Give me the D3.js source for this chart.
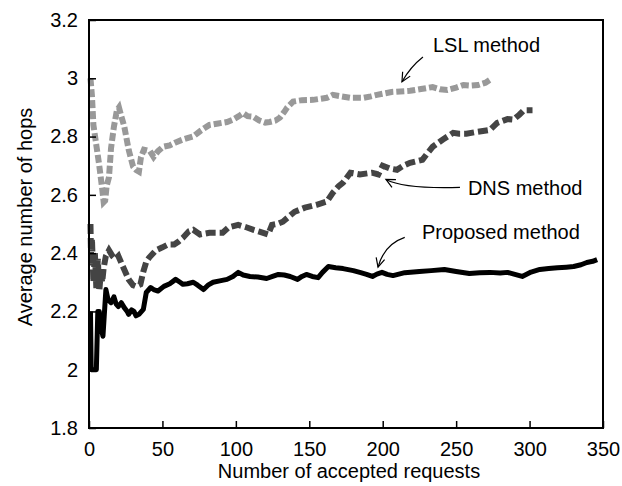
<!DOCTYPE html>
<html>
<head>
<meta charset="utf-8">
<script src="https://cdn.jsdelivr.net/npm/d3@7"></script>
<style>
  body { margin: 0; background: #fff; }
  text { font-family: "Liberation Sans", Arial, Helvetica, sans-serif; fill: #000; }
</style>
</head>
<body>
<div id="chart"></div>
<script>
// series: [requests, average hops]
const lslData = [[1,3.0],[2,2.94],[3,2.84],[5,2.77],[7,2.7],[9,2.62],[10,2.575],[11,2.58],[12,2.63],[13.6,2.66],
  [15,2.76],[17,2.835],[19,2.89],[20.4,2.9],[22,2.87],[24,2.835],[27,2.755],[30,2.697],[32,2.686],[34,2.68],
  [35.4,2.73],[37.4,2.755],[41.5,2.75],[44,2.73],[47,2.75],[50.4,2.765],[55,2.77],[59,2.78],[64,2.79],[70.8,2.80],
  [76,2.82],[82,2.84],[88,2.845],[94,2.85],[98,2.858],[102,2.87],[105,2.88],[108,2.87],[112,2.868],[116,2.855],
  [120,2.848],[123,2.85],[127,2.855],[130,2.865],[133,2.885],[135,2.90],[139,2.92],[145,2.925],[152.5,2.926],
  [158,2.93],[162,2.933],[166,2.943],[172,2.938],[178,2.933],[187,2.933],[192,2.938],[196,2.943],[201,2.948],
  [206,2.953],[212,2.955],[218.6,2.957],[226,2.963],[234,2.97],[239,2.962],[244,2.96],[250,2.968],[255,2.977],
  [260,2.975],[265,2.977],[270,2.985],[273,2.995]];

const dnsData = [[1,2.5],[1.5,2.36],[2,2.45],[3,2.3],[4,2.4],[5,2.28],[6,2.38],[7,2.27],[8,2.33],[9,2.3],
  [10,2.35],[11.5,2.39],[13.6,2.41],[16,2.39],[18,2.38],[20,2.39],[23,2.355],[27,2.31],[30,2.29],[32,2.286],
  [35,2.293],[37,2.337],[39,2.37],[41,2.385],[45.6,2.41],[50,2.42],[54,2.43],[58,2.43],[61,2.44],[64,2.453],
  [68,2.475],[71,2.48],[75.6,2.464],[82,2.47],[91,2.47],[95,2.488],[101.6,2.497],[107.6,2.488],[112,2.48],
  [116,2.474],[122,2.464],[124.6,2.497],[128,2.5],[132,2.508],[136,2.525],[140,2.542],[147,2.556],[155,2.566],
  [162,2.577],[166,2.607],[170,2.63],[173,2.642],[178,2.676],[184.5,2.67],[192.7,2.676],[197,2.67],[200,2.7],
  [205,2.69],[209.7,2.686],[214,2.7],[218.6,2.71],[227,2.72],[230,2.74],[234,2.765],[241,2.79],[248,2.813],
  [252,2.81],[257,2.81],[264,2.816],[273,2.823],[278,2.847],[285,2.86],[289,2.858],[293,2.875],[296,2.89],[302,2.89]];

const proposedData = [[1,2.2],[1.5,2.0],[5,2.0],[6,2.2],[7,2.2],[8,2.15],[9.5,2.115],[11.5,2.275],[13,2.24],
  [15,2.23],[17,2.25],[18.5,2.225],[20,2.217],[22,2.23],[24,2.213],[26,2.2],[27,2.19],[29,2.205],[30.6,2.2],
  [32,2.185],[34,2.19],[37,2.207],[39,2.265],[42,2.282],[44,2.275],[47,2.27],[51,2.286],[55,2.295],[59,2.31],
  [62,2.3],[64,2.293],[67,2.295],[71,2.3],[74,2.29],[78,2.275],[81,2.29],[84.5,2.3],[89,2.305],[94,2.31],
  [98,2.32],[101.6,2.334],[105,2.325],[109.6,2.32],[115,2.318],[121,2.313],[125,2.32],[129,2.327],[133,2.325],
  [137,2.32],[142,2.31],[145,2.32],[148,2.327],[152,2.32],[156,2.316],[159,2.334],[163,2.354],[168,2.35],
  [173,2.347],[180,2.34],[185,2.333],[189,2.327],[193,2.32],[196,2.328],[199.5,2.334],[203,2.327],[207,2.323],
  [215,2.333],[225,2.337],[233,2.34],[242,2.344],[250,2.337],[259,2.33],[266,2.333],[273,2.334],[280,2.332],
  [285,2.334],[290,2.327],[295,2.32],[301,2.335],[307,2.344],[313,2.347],[319,2.35],[325,2.352],[330,2.354],
  [335,2.36],[339,2.368],[343,2.372],[346,2.378]];

const xTicks = [0, 50, 100, 150, 200, 250, 300, 350];
const yTicks = [1.8, 2, 2.2, 2.4, 2.6, 2.8, 3, 3.2];

// annotation labels and arrows, in data units: text start, arrow start, bend, tip
const labels = [
  { text: "LSL method", at: [234.2, 3.089], from: [227.4, 3.073], bend: [219, 3.04], tip: [213.1, 2.988] },
  { text: "DNS method", at: [258, 2.601], from: [252.6, 2.626], bend: [215, 2.62], tip: [202.2, 2.653] },
  { text: "Proposed method", at: [226.7, 2.45], from: [215, 2.454], bend: [201, 2.43], tip: [196.8, 2.352] }
];

const width = 622, height = 486;
const margin = { top: 20, right: 19, bottom: 58, left: 89 };

const svg = d3.select("#chart").append("svg")
    .attr("width", width)
    .attr("height", height);

const x = d3.scaleLinear().domain([0, 350]).range([margin.left, width - margin.right]);
const y = d3.scaleLinear().domain([1.8, 3.2]).range([height - margin.bottom, margin.top]);

const line = d3.line().x(d => x(d[0])).y(d => y(d[1]));

// series
svg.append("path")
    .datum(lslData)
    .attr("d", line)
    .attr("fill", "none")
    .attr("stroke", "#999")
    .attr("stroke-width", 6)
    .attr("stroke-dasharray", "8,3");

svg.append("path")
    .datum(dnsData)
    .attr("d", line)
    .attr("fill", "none")
    .attr("stroke", "#444")
    .attr("stroke-width", 6)
    .attr("stroke-dasharray", "10,4");

svg.append("path")
    .datum(proposedData)
    .attr("d", line)
    .attr("fill", "none")
    .attr("stroke", "#000")
    .attr("stroke-width", 5)
    .attr("stroke-linejoin", "round");

// axes (ticks point inward)
const xAxis = svg.append("g")
    .attr("transform", `translate(0,${height - margin.bottom})`)
    .call(d3.axisBottom(x).tickValues(xTicks).tickSizeInner(-7).tickSizeOuter(0).tickPadding(14));

const yAxis = svg.append("g")
    .attr("transform", `translate(${margin.left},0)`)
    .call(d3.axisLeft(y).tickValues(yTicks).tickSizeInner(-7).tickSizeOuter(0).tickPadding(11)
        .tickFormat(d => String(+d.toFixed(1))));

[xAxis, yAxis].forEach(g => {
    g.select(".domain").remove();
    g.selectAll(".tick line").attr("stroke", "#000").attr("stroke-width", 1.5);
    g.selectAll(".tick text").style("font-size", "20px").attr("fill", "#000");
});

// frame
svg.append("rect")
    .attr("x", margin.left)
    .attr("y", margin.top)
    .attr("width", width - margin.left - margin.right)
    .attr("height", height - margin.top - margin.bottom)
    .attr("fill", "none")
    .attr("stroke", "#000")
    .attr("stroke-width", 2);

// axis titles
svg.append("text")
    .attr("x", (margin.left + width - margin.right) / 2 + 3)
    .attr("y", 478)
    .attr("text-anchor", "middle")
    .style("font-size", "20px")
    .text("Number of accepted requests");

svg.append("text")
    .attr("transform", `translate(32,${(margin.top + height - margin.bottom) / 2 - 7}) rotate(-90)`)
    .attr("text-anchor", "middle")
    .style("font-size", "20px")
    .text("Average number of hops");

// annotations
labels.forEach(l => {
    svg.append("text")
        .attr("x", x(l.at[0]))
        .attr("y", y(l.at[1]))
        .style("font-size", "20px")
        .text(l.text);

    const p0 = [x(l.from[0]), y(l.from[1])];
    const pc = [x(l.bend[0]), y(l.bend[1])];
    const p1 = [x(l.tip[0]), y(l.tip[1])];
    const path = d3.path();
    path.moveTo(p0[0], p0[1]);
    path.quadraticCurveTo(pc[0], pc[1], p1[0], p1[1]);
    svg.append("path")
        .attr("d", path.toString())
        .attr("fill", "none")
        .attr("stroke", "#000")
        .attr("stroke-width", 1.2);

    // open arrow head
    const ang = Math.atan2(p1[1] - pc[1], p1[0] - pc[0]);
    const len = 10, spread = 0.45;
    const head = d3.path();
    head.moveTo(p1[0] - len * Math.cos(ang - spread), p1[1] - len * Math.sin(ang - spread));
    head.lineTo(p1[0], p1[1]);
    head.lineTo(p1[0] - len * Math.cos(ang + spread), p1[1] - len * Math.sin(ang + spread));
    svg.append("path")
        .attr("d", head.toString())
        .attr("fill", "none")
        .attr("stroke", "#000")
        .attr("stroke-width", 1.2);
});
</script>
</body>
</html>
